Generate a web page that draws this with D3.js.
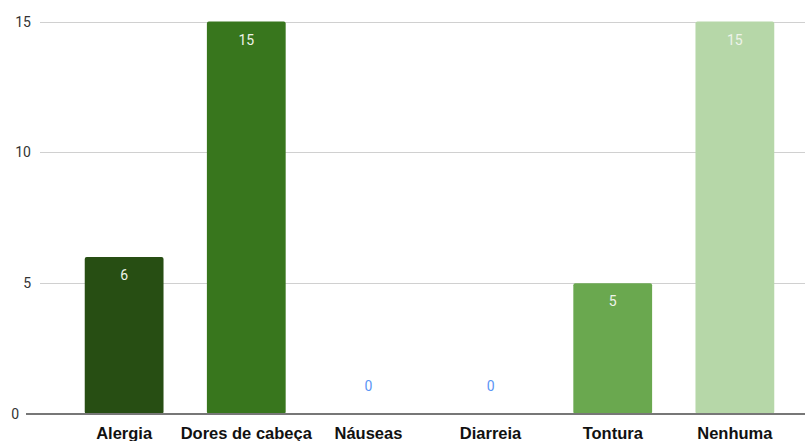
<!DOCTYPE html>
<html>
<head>
<meta charset="utf-8">
<script src="https://cdn.jsdelivr.net/npm/d3@7"></script>
<style>
  html, body { margin: 0; padding: 0; background: #fff; }
  svg { display: block; }
</style>
</head>
<body>
<svg id="chart" width="805" height="441"></svg>
<script>
// Efeitos colaterais relatados
const categories = ["Alergia", "Dores de cabeça", "Náuseas", "Diarreia", "Tontura", "Nenhuma"];
const values = [6, 15, 0, 0, 5, 15];
const barColors = ["#274e13", "#38761d", "#4285f4", "#4285f4", "#6aa84f", "#b6d7a8"];
const yTicks = [0, 5, 10, 15];

const svg = d3.select("#chart");
const plot = { left: 40, right: 805, top: 21.5, bottom: 414 };

const x = d3.scaleBand()
  .domain(categories)
  .range([63, 796])
  .paddingInner(0.355)
  .paddingOuter(0.178);

const y = d3.scaleLinear()
  .domain([0, 15])
  .range([plot.bottom, plot.top]);

// Gridlines
svg.append("g")
  .selectAll("line")
  .data(yTicks.filter(d => d !== 0))
  .join("line")
  .attr("x1", plot.left)
  .attr("x2", plot.right)
  .attr("y1", d => Math.round(y(d)) + 0.5)
  .attr("y2", d => Math.round(y(d)) + 0.5)
  .attr("stroke", "#d0d0d0")
  .attr("stroke-width", 1);

// Y axis labels (the zero label sits left of the baseline)
svg.append("g")
  .selectAll("text")
  .data(yTicks)
  .join("text")
  .attr("x", d => d === 0 ? 19 : 31)
  .attr("y", d => y(d) + 5)
  .attr("text-anchor", "end")
  .attr("font-family", "Roboto, Arial, sans-serif")
  .attr("font-size", 14)
  .attr("fill", "#333")
  .text(d => d);

// Bars
const data = categories.map((c, i) => ({ c, v: values[i], color: barColors[i] }));

svg.append("g")
  .selectAll("rect")
  .data(data.filter(d => d.v > 0))
  .join("rect")
  .attr("x", d => x(d.c))
  .attr("y", d => y(d.v))
  .attr("width", x.bandwidth())
  .attr("height", d => y(0) - y(d.v))
  .attr("rx", 2)
  .attr("fill", d => d.color);

// Value labels
svg.append("g")
  .selectAll("text")
  .data(data)
  .join("text")
  .attr("x", d => x(d.c) + x.bandwidth() / 2)
  .attr("y", d => d.v > 0 ? y(d.v) + 23 : y(0) - 23)
  .attr("text-anchor", "middle")
  .attr("font-family", "Roboto, Arial, sans-serif")
  .attr("font-size", 14)
  .attr("fill", d => d.v > 0 ? "#eef3ea" : "#5b95f5")
  .text(d => d.v);

// Baseline
svg.append("line")
  .attr("x1", 26)
  .attr("x2", plot.right)
  .attr("y1", y(0))
  .attr("y2", y(0))
  .attr("stroke", "#777")
  .attr("stroke-width", 2);

// Category labels
svg.append("g")
  .selectAll("text")
  .data(categories)
  .join("text")
  .attr("x", d => x(d) + x.bandwidth() / 2)
  .attr("y", 439)
  .attr("text-anchor", "middle")
  .attr("font-family", "'Liberation Sans', Arial, sans-serif")
  .attr("font-weight", "bold")
  .attr("font-size", 16.5)
  .attr("fill", "#111")
  .text(d => d);
</script>
</body>
</html>
